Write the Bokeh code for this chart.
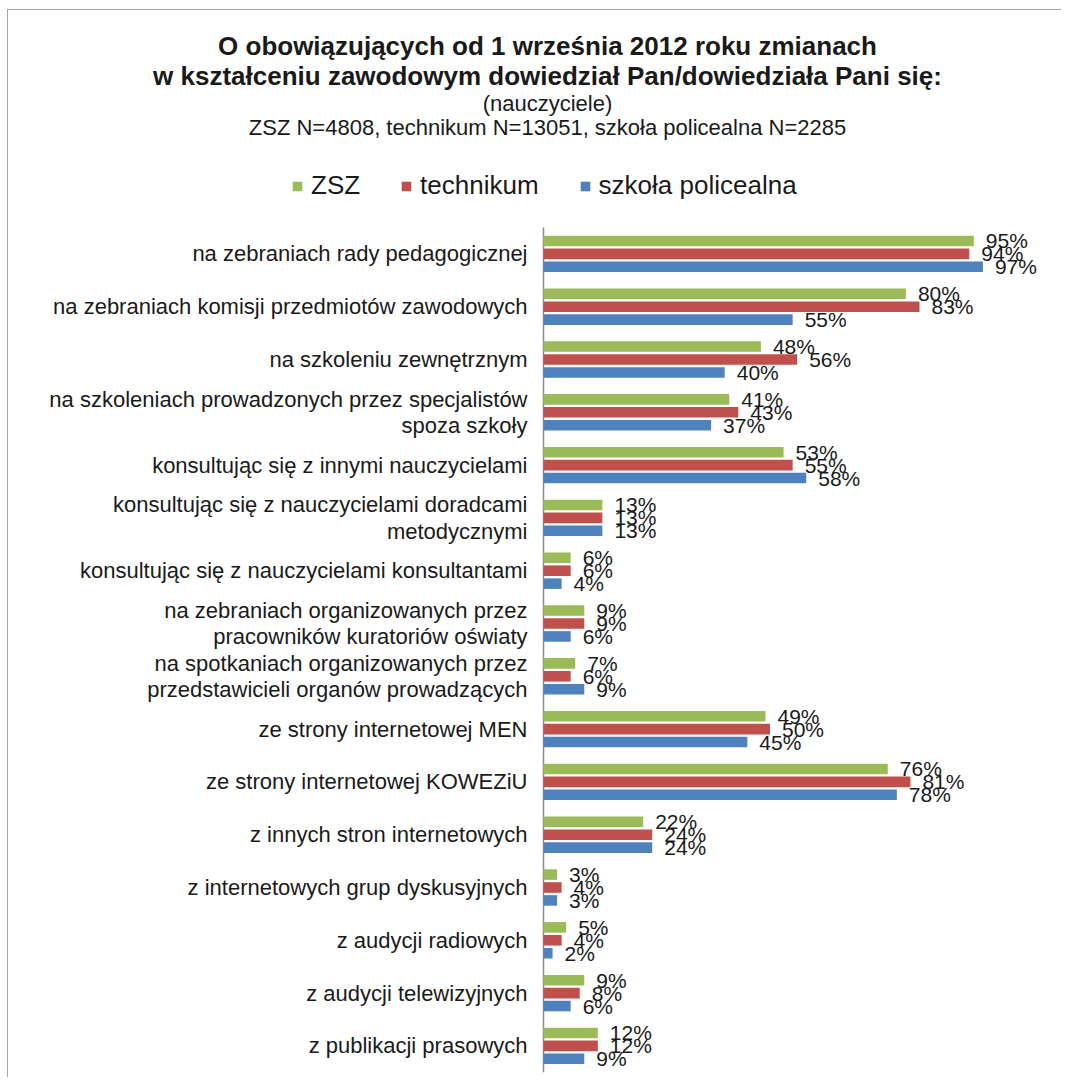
from bokeh.plotting import figure
from bokeh.models import ColumnDataSource, Range1d, Label, Legend, LegendItem
from bokeh.transform import dodge
from bokeh.embed import file_html
from bokeh.resources import INLINE
from bokeh.core.properties import value

categories = [
    "na zebraniach rady pedagogicznej",
    "na zebraniach komisji przedmiotów zawodowych",
    "na szkoleniu zewnętrznym",
    "na szkoleniach prowadzonych przez specjalistów\nspoza szkoły",
    "konsultując się z innymi nauczycielami",
    "konsultując się z nauczycielami doradcami\nmetodycznymi",
    "konsultując się z nauczycielami konsultantami",
    "na zebraniach organizowanych przez\npracowników kuratoriów oświaty",
    "na spotkaniach organizowanych przez\nprzedstawicieli organów prowadzących",
    "ze strony internetowej MEN",
    "ze strony internetowej KOWEZiU",
    "z innych stron internetowych",
    "z internetowych grup dyskusyjnych",
    "z audycji radiowych",
    "z audycji telewizyjnych",
    "z publikacji prasowych",
]
zsz = [95, 80, 48, 41, 53, 13, 6, 9, 7, 49, 76, 22, 3, 5, 9, 12]
technikum = [94, 83, 56, 43, 55, 13, 6, 9, 6, 50, 81, 24, 4, 4, 8, 12]
policealna = [97, 55, 40, 37, 58, 13, 4, 6, 9, 45, 78, 24, 3, 2, 6, 9]
series_names = ["ZSZ", "technikum", "szkoła policealna"]
colors = ["#9BBB59", "#C0504D", "#4F81BD"]

title_lines = [
    "O obowiązujących od 1 września 2012 roku zmianach",
    "w kształceniu zawodowym dowiedział Pan/dowiedziała Pani się:",
]
subtitle_lines = ["(nauczyciele)", "ZSZ N=4808, technikum N=13051, szkoła policealna N=2285"]

FONT = "Liberation Sans"
TXT = "#1a1a1a"

n = len(categories)
idx = list(range(n))
src = ColumnDataSource(dict(
    idx=idx, cat=categories, zsz=zsz, tech=technikum, pol=policealna,
    zsz_l=[f"{v}%" for v in zsz],
    tech_l=[f"{v}%" for v in technikum],
    pol_l=[f"{v}%" for v in policealna],
))

# layout: frame covers the whole chart area; 52.8 px per category, 4.53 px per percent
FW, FH = 1053, 1067
ROW, PCT = 52.8, 4.53
AX_X, AX_TOP = 535, 217
x_range = Range1d(-AX_X / PCT, (FW - AX_X) / PCT)
y_range = Range1d(start=-0.5 + (FH - AX_TOP) / ROW, end=-0.5 - AX_TOP / ROW)

p = figure(
    x_range=x_range, y_range=y_range,
    frame_width=FW, frame_height=FH,
    min_border=0, min_border_left=0, min_border_right=0, min_border_top=0, min_border_bottom=0,
    x_axis_location=None, y_axis_location=None,
    output_backend="svg", toolbar_location=None,
)
p.outline_line_color = None
p.grid.visible = False
p.styles = {"margin-left": "7px", "margin-top": "9px",
            "border-left": "1px solid #a6a6a6", "border-top": "1px solid #a6a6a6"}

# vertical category axis line
p.segment(x0=[0], x1=[0], y0=[-0.5], y1=[n - 0.5], line_color="#8c8c8c", line_width=1.5)

# category labels
p.text(x=0, y="idx", text="cat", source=src, x_offset=-16,
       text_align="right", text_baseline="middle", text_line_height=1.05,
       text_font=value(FONT), text_font_size="22px", text_color=TXT)

offsets = [-0.245, 0.0, 0.245]
cols = ["zsz", "tech", "pol"]
renderers = []
for col, off, color in zip(cols, offsets, colors):
    r = p.hbar(y=dodge("idx", off), right=col, left=0, height=0.2,
               source=src, fill_color=color, line_color=None)
    renderers.append(r)
    p.text(x=col, y=dodge("idx", off), text=col + "_l", source=src,
           x_offset=12, text_baseline="middle", text_align="left",
           text_font=value(FONT), text_font_size="21px", text_color=TXT)

legend = Legend(
    items=[LegendItem(label=nm, renderers=[r]) for nm, r in zip(series_names, renderers)],
    orientation="horizontal", location=(283, 876),
    glyph_width=12, glyph_height=12, label_standoff=8, spacing=40,
    label_text_font=FONT, label_text_font_size="26px", label_text_color=TXT,
    label_height=26, padding=0, margin=0, border_line_color=None, background_fill_alpha=0,
)
p.add_layout(legend, "center")

for txt, y in zip(title_lines, [1032, 1002]):
    p.add_layout(Label(x=539, y=y, x_units="screen", y_units="screen", text=txt,
                       text_align="center", text_baseline="middle",
                       text_font=FONT, text_font_size="26px", text_font_style="bold",
                       text_color=TXT))
for txt, y in zip(subtitle_lines, [974, 950]):
    p.add_layout(Label(x=539, y=y, x_units="screen", y_units="screen", text=txt,
                       text_align="center", text_baseline="middle",
                       text_font=FONT, text_font_size="22px", text_color=TXT))

open("out.html", "w").write(file_html(p, INLINE))
